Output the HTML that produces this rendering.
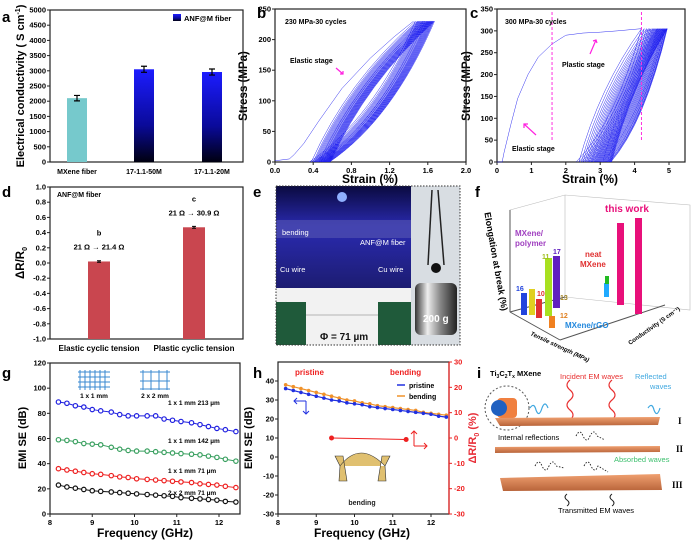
<!DOCTYPE html>
<html><head><meta charset="utf-8"><style>
html,body{margin:0;padding:0;background:#fff;}
svg{display:block;font-family:"Liberation Sans",Arial,sans-serif;font-weight:bold;}
</style></head><body>
<svg id="fig" width="693" height="542" viewBox="0 0 693 542" xmlns="http://www.w3.org/2000/svg">
<defs>
<linearGradient id="gblue" x1="0" y1="0" x2="0" y2="1"><stop offset="0" stop-color="#1c1cff"/><stop offset="0.6" stop-color="#0a0a9a"/><stop offset="1" stop-color="#000010"/></linearGradient>
<linearGradient id="gphoto" x1="0" y1="0" x2="0" y2="1"><stop offset="0" stop-color="#0a0a40"/><stop offset="0.4" stop-color="#2a2ab0"/><stop offset="1" stop-color="#1c1c70"/></linearGradient>
<linearGradient id="gweight" x1="0" y1="0" x2="1" y2="0"><stop offset="0" stop-color="#333"/><stop offset="0.3" stop-color="#eee"/><stop offset="0.6" stop-color="#888"/><stop offset="1" stop-color="#222"/></linearGradient>
<linearGradient id="glayer" x1="0" y1="0" x2="0" y2="1"><stop offset="0" stop-color="#f0a070"/><stop offset="1" stop-color="#b8643a"/></linearGradient>
</defs>

<text x="2" y="22" font-size="15">a</text>
<text x="257" y="18" font-size="15">b</text>
<text x="470" y="18" font-size="15">c</text>
<text x="2" y="197" font-size="15">d</text>
<text x="253" y="197" font-size="15">e</text>
<text x="475" y="197" font-size="15">f</text>
<text x="2" y="378" font-size="15">g</text>
<text x="253" y="378" font-size="15">h</text>
<text x="477" y="378" font-size="15">i</text>

<text transform="translate(24,86) rotate(-90)" text-anchor="middle" font-size="11">Electrical conductivity ( S cm<tspan font-size="7" dy="-4">-1</tspan><tspan dy="4">)</tspan></text>
<text transform="translate(247,86) rotate(-90)" text-anchor="middle" font-size="11.5">Stress (MPa)</text>
<text x="370" y="183" text-anchor="middle" font-size="12">Strain (%)</text>
<text transform="translate(470,86) rotate(-90)" text-anchor="middle" font-size="11.5">Stress (MPa)</text>
<text x="590" y="183" text-anchor="middle" font-size="12">Strain (%)</text>
<text transform="translate(24,263) rotate(-90)" text-anchor="middle" font-size="11.5">ΔR/R<tspan font-size="7" dy="3">0</tspan></text>
<text transform="translate(26,438) rotate(-90)" text-anchor="middle" font-size="11">EMI SE (dB)</text>
<text x="145" y="537" text-anchor="middle" font-size="12">Frequency (GHz)</text>
<text transform="translate(252,438) rotate(-90)" text-anchor="middle" font-size="11">EMI SE (dB)</text>
<text x="362" y="537" text-anchor="middle" font-size="12">Frequency (GHz)</text>
<text transform="translate(476,438) rotate(-90)" text-anchor="middle" font-size="11" fill="#e8303a">ΔR/R<tspan font-size="7" dy="3">0</tspan><tspan dy="-3"> (%)</tspan></text>

<g>
<rect x="276" y="186" width="135" height="103" fill="url(#gphoto)"/>
<rect x="276" y="220" width="135" height="18" fill="#5050b0" opacity="0.7"/>
<circle cx="342" cy="197" r="5" fill="#8fb0ff"/>
<rect x="276" y="288" width="135" height="57" fill="#f2f2f2"/>
<rect x="276" y="302" width="30" height="43" fill="#1f5a3a"/>
<rect x="378" y="302" width="33" height="43" fill="#1f5a3a"/>
<line x1="306" y1="315" x2="378" y2="315" stroke="#777" stroke-width="0.6"/>
<rect x="411" y="186" width="49" height="159" fill="#d8dde2"/>
<line x1="432" y1="190" x2="428" y2="265" stroke="#222" stroke-width="1.5"/>
<line x1="438" y1="190" x2="444" y2="265" stroke="#222" stroke-width="1.5"/>
<circle cx="436" cy="268" r="5" fill="#111"/>
<rect x="415" y="283" width="42" height="52" rx="6" fill="url(#gweight)"/>
<rect x="276" y="186" width="184" height="159" fill="none" stroke="#333" stroke-dasharray="1.5,1.5"/>
<text x="282" y="235" font-size="7.5" fill="#fff" font-weight="normal">bending</text>
<text x="360" y="245" font-size="7.5" fill="#fff" font-weight="normal">ANF@M fiber</text>
<text x="280" y="272" font-size="7.5" fill="#fff" font-weight="normal">Cu wire</text>
<text x="378" y="272" font-size="7.5" fill="#fff" font-weight="normal">Cu wire</text>
<text x="320" y="340" font-size="10" fill="#111">Φ = 71 µm</text>
<text x="423" y="322" font-size="10" fill="#fff">200 g</text>
</g>

<g font-size="8">
<polygon points="510,210 565,195 690,205 690,310 565,297 510,312" fill="none" stroke="#bbb" stroke-width="0.6"/>
<line x1="565" y1="195" x2="565" y2="297" stroke="#bbb" stroke-width="0.6"/>
<line x1="510" y1="312" x2="565" y2="297" stroke="#555"/>
<line x1="510" y1="312" x2="560" y2="340" stroke="#555"/>
<line x1="560" y1="340" x2="665" y2="305" stroke="#555"/>
<line x1="510" y1="210" x2="510" y2="312" stroke="#555"/>
<text transform="translate(493,262) rotate(80)" text-anchor="middle" font-size="9">Elongation at break (%)</text>
<text transform="translate(530,335) rotate(25)" font-size="6" font-style="italic">Tensile strength (MPa)</text>
<text transform="translate(630,345) rotate(-35)" font-size="6">Conductivity (S cm⁻¹)</text>
<rect x="521" y="293" width="6" height="22" fill="#2244dd"/>
<rect x="529" y="289" width="6" height="26" fill="#e0d020"/>
<rect x="536" y="299" width="6" height="19" fill="#e03030"/>
<rect x="545" y="258" width="7" height="58" fill="#a8e020"/>
<rect x="553" y="256" width="7" height="52" fill="#6020c0"/>
<rect x="549" y="316" width="6" height="12" fill="#f08020"/>
<rect x="604" y="283" width="5" height="14" fill="#20aaff"/>
<rect x="605" y="276" width="4" height="8" fill="#22bb22"/>
<rect x="617" y="223" width="7" height="82" fill="#e8107a"/>
<rect x="635" y="218" width="7" height="96" fill="#e8107a"/>
<text x="605" y="212" font-size="10" fill="#e8107a">this work</text>
<text x="515" y="236" font-size="8" fill="#a040c0">MXene/</text>
<text x="515" y="246" font-size="8" fill="#a040c0">polymer</text>
<text x="585" y="257" font-size="8" fill="#e03030">neat</text>
<text x="580" y="267" font-size="8" fill="#e03030">MXene</text>
<text x="565" y="328" font-size="8" fill="#2288dd">MXene/rGO</text>
<text x="553" y="254" font-size="7" fill="#6020c0">17</text>
<text x="542" y="259" font-size="7" fill="#a0c020">11</text>
<text x="516" y="291" font-size="7" fill="#2244dd">16</text>
<text x="537" y="296" font-size="7" fill="#e03030">10</text>
<text x="560" y="300" font-size="7" fill="#a08020">13</text>
<text x="560" y="318" font-size="7" fill="#e08020">12</text>
</g>

<g>
<circle cx="507" cy="408" r="22" fill="none" stroke="#555" stroke-dasharray="2,2"/>
<rect x="497" y="398" width="20" height="20" rx="4" fill="#f08040"/>
<circle cx="499" cy="408" r="8" fill="#2060c0"/>
<text x="490" y="376" font-size="7.5">Ti<tspan font-size="5" dy="2">3</tspan><tspan dy="-2">C</tspan><tspan font-size="5" dy="2">2</tspan><tspan dy="-2">T</tspan><tspan font-size="5" dy="2">x</tspan><tspan dy="-2"> MXene</tspan></text>
<text x="560" y="379" font-size="7.5" fill="#e83030" font-weight="normal">Incident EM waves</text>
<text x="635" y="379" font-size="7.5" fill="#40a8e0" font-weight="normal">Reflected</text>
<text x="650" y="389" font-size="7.5" fill="#40a8e0" font-weight="normal">waves</text>
<path d="M570 380 q-6 5 0 10 q6 5 0 10 q-6 5 0 10 q6 5 0 10 M612 380 q-6 5 0 10 q6 5 0 10 q-6 5 0 10 q6 5 0 10" fill="none" stroke="#e83030" stroke-width="1.2"/>
<path d="M530 408 q4 -6 6 2 q3 8 6 -2 q3 -8 6 0 M648 408 q4 -6 6 2 q3 8 6 -2" fill="none" stroke="#40a8e0" stroke-width="1.2"/>
<polygon points="495,418 660,417 658,425 500,426" fill="url(#glayer)"/>
<polygon points="495,447 660,446 660,452 495,453" fill="url(#glayer)"/>
<polygon points="500,478 660,474 662,490 503,491" fill="url(#glayer)"/>
<text x="678" y="424" font-size="9" font-family="Liberation Serif">I</text>
<text x="676" y="452" font-size="9" font-family="Liberation Serif">II</text>
<text x="672" y="488" font-size="9" font-family="Liberation Serif">III</text>
<text x="498" y="440" font-size="7.5" font-weight="normal">Internal reflections</text>
<text x="614" y="462" font-size="7.5" fill="#40c070" font-weight="normal">Absorbed waves</text>
<text x="558" y="513" font-size="7.5" font-weight="normal">Transmitted EM waves</text>
<path d="M576 436 q4 -8 7 0 q4 8 7 0 q4 -8 7 0 l8 4 M535 466 q4 -8 7 0 q4 8 7 0 q4 -8 7 0 l8 2 M584 466 q4 -8 7 0 q4 8 7 0 l10 6" fill="none" stroke="#222" stroke-width="0.9" stroke-dasharray="1.5,1.5"/>
<path d="M567 494 q-4 3 0 6 q4 3 0 6 M612 494 q-4 3 0 6 q4 3 0 6" fill="none" stroke="#222" stroke-width="1"/>
</g>

<g id="charts"></g>
</svg>

<script>
const aCategories = ["MXene fiber","17-1.1-50M","17-1.1-20M"];
const aValues = [2100, 3050, 2960];
const aErrors = [90, 100, 100];
const aTicks = [0,500,1000,1500,2000,2500,3000,3500,4000,4500,5000];

const dCategories = ["Elastic cyclic tension","Plastic cyclic tension"];
const dValues = [0.02, 0.47];
const dErrors = [0.01, 0.012];
const dTop = ["b","c"];
const dNote = ["21 Ω → 21.4 Ω","21 Ω → 30.9 Ω"];
const dTicks = [-1.0,-0.8,-0.6,-0.4,-0.2,0.0,0.2,0.4,0.6,0.8,1.0];

const bTicksX = [0.0,0.4,0.8,1.2,1.6,2.0];
const bTicksY = [0,50,100,150,200,250];
const bInitX = [0,0.15,0.2,0.3,0.45,0.7,1.0,1.25,1.45];
const bInitY = [2,5,12,30,65,120,170,205,230];
const bStart = [0.36,0.38,0.40,0.41,0.42,0.43,0.44,0.45,0.46,0.46,0.47,0.48,0.48,0.49,0.50,0.50,0.51,0.51,0.52,0.52,0.53,0.53,0.54,0.54,0.55,0.55,0.56,0.56,0.57,0.57];
const bEnd = [1.47,1.49,1.50,1.51,1.52,1.53,1.54,1.55,1.55,1.56,1.57,1.57,1.58,1.59,1.59,1.60,1.60,1.61,1.61,1.62,1.62,1.63,1.63,1.64,1.64,1.65,1.65,1.66,1.66,1.67];

const cTicksX = [0,1,2,3,4,5];
const cTicksY = [0,50,100,150,200,250,300,350];
const cInitX = [0,0.15,0.2,0.4,0.6,0.9,1.2,1.6,2.0,2.5,3.0,3.5,4.2];
const cInitY = [0,0,20,85,145,200,240,270,290,295,297,300,305];
const cStart = [2.30,2.38,2.45,2.50,2.55,2.60,2.64,2.68,2.72,2.75,2.78,2.82,2.85,2.88,2.91,2.94,2.97,3.00,3.03,3.06,3.08,3.11,3.14,3.17,3.20,3.22,3.25,3.27,3.29,3.31];
const cEnd = [4.20,4.28,4.35,4.40,4.44,4.48,4.52,4.55,4.58,4.61,4.64,4.66,4.68,4.70,4.72,4.74,4.76,4.78,4.80,4.82,4.83,4.85,4.86,4.88,4.89,4.90,4.92,4.93,4.94,4.95];

const gFreqs = [8.2,8.4,8.6,8.8,9.0,9.2,9.45,9.65,9.85,10.05,10.3,10.5,10.7,10.9,11.1,11.35,11.55,11.75,11.95,12.15,12.4];
const g213 = [89,88,86,85,83,82,81,79,78,78,78,78,75.5,74.5,73.5,72.5,71,69.5,68,67,65.5];
const g142 = [59,58.5,57.5,56,55.5,55,53,51.5,50.5,50,50,49.5,49,48.5,48,47.5,47,46,45,43.5,42];
const g71 = [36,35,34,33,32,31.5,30.5,29.5,29,28,27.5,27,26.5,26,25.5,25,24,23.5,23,22,21];
const g2x2 = [23,21.5,20.5,19.5,18.5,18,17.5,17,16.5,16,15.5,15,14.5,14,13,12.5,12,11.5,11,10,9.5];
const gTicksX = [8,9,10,11,12];
const gTicksY = [0,20,40,60,80,100,120];
const gLabels = ["1 x 1 mm  213 µm","1 x 1 mm 142 µm","1 x 1 mm 71 µm","2 x 2 mm 71 µm"];

const hFreqs = [8.2,8.4,8.6,8.8,9.0,9.2,9.4,9.6,9.8,10.0,10.2,10.4,10.6,10.8,11.0,11.2,11.4,11.6,11.8,12.0,12.2,12.4];
const hPristine = [36,35,34,33,32,31,30,29.5,28.5,28,27.5,26.5,26,25.5,25,24.5,24,23.5,23,22.5,21.5,21];
const hBending = [38,37,36,35,34,33,32,31,30,29.5,28.5,28,27,26.5,26,25.5,25,24.5,23.5,23,22.5,22];
const hResX = [9.4,11.35];
const hResY = [0,-0.6];
const hTicksX = [8,9,10,11,12];
const hTicksYL = [-30,-20,-10,0,10,20,30,40];
const hTicksYR = [-30,-20,-10,0,10,20,30];

const NS = "http://www.w3.org/2000/svg";
const root = document.getElementById("charts");
function mk(tag, attrs, parent) {
  const el = document.createElementNS(NS, tag);
  for (const k in attrs) el.setAttribute(k, attrs[k]);
  (parent || root).appendChild(el);
  return el;
}
function txt(x, y, s, size, anchor, fill, parent) {
  const t = mk("text", {x: x, y: y, "font-size": size, "text-anchor": anchor || "start", fill: fill || "#000"}, parent);
  t.textContent = s;
  return t;
}
function scale(d0, d1, r0, r1) { return v => r0 + (v - d0) / (d1 - d0) * (r1 - r0); }
function frame(x0, y0, x1, y1, name) {
  const r = mk("rect", {x: x0, y: y0, width: x1 - x0, height: y1 - y0, fill: "none", stroke: "#222", "stroke-width": 1.2});
  
  
}
function yTicks(ticks, sy, x, fmt, name, color, right) {
  ticks.forEach(v => {
    const y = sy(v);
    const tl = mk("line", {x1: x, y1: y, x2: right ? x + 3 : x - 3, y2: y, stroke: color || "#222"});
    
    
    const t = txt(right ? x + 5 : x - 4, y + 2.5, fmt(v), 7.5, right ? "start" : "end", color);
    
    
  });
}
function xTicks(ticks, sx, y, fmt, name) {
  ticks.forEach(v => {
    const x = sx(v);
    const tl = mk("line", {x1: x, y1: y, x2: x, y2: y + 3, stroke: "#222"});
    
    
    const t = txt(x, y + 11, fmt(v), 7.5, "middle");
    
    
  });
}

(function(){
  const sy = scale(0, 5000, 162, 10);
  const xs = [77, 144, 212];
  frame(50, 10, 243, 162, "a-plot-frame");
  yTicks(aTicks, sy, 50, v => String(v), "a-y");
  aValues.forEach((v, i) => {
    const b = mk("rect", {x: xs[i] - 10, y: sy(v), width: 20, height: 162 - sy(v), fill: i === 0 ? "#76c9cc" : "url(#gblue)"});
    
    
    const e = mk("path", {d: `M${xs[i]-3} ${sy(v+aErrors[i])} h6 M${xs[i]} ${sy(v+aErrors[i])} V${sy(v-aErrors[i])} M${xs[i]-3} ${sy(v-aErrors[i])} h6`, stroke: "#000", "stroke-width": 1.2, fill: "none"});
    
    
    const t = txt(xs[i], 174, aCategories[i], 7, "middle");
    
    
  });
  const lg = mk("rect", {x: 173, y: 14, width: 8, height: 7, fill: "url(#gblue)"});
  
  
  const lt = txt(184, 21, "ANF@M fiber", 7.5);
  
  
})();

(function(){
  const sy = scale(-1, 1, 339, 187);
  const xs = [99, 194];
  frame(50, 187, 243, 339, "d-plot-frame");
  yTicks(dTicks, sy, 50, v => v.toFixed(1), "d-y");
  const t0 = txt(57, 197, "ANF@M fiber", 7);
  
  
  dValues.forEach((v, i) => {
    const b = mk("rect", {x: xs[i] - 11, y: sy(v), width: 22, height: sy(-1) - sy(v), fill: "#c9464f"});
    
    
    const e = mk("path", {d: `M${xs[i]-2} ${sy(v+dErrors[i])} h4 M${xs[i]} ${sy(v+dErrors[i])} V${sy(v-dErrors[i])} M${xs[i]-2} ${sy(v-dErrors[i])} h4`, stroke: "#000", fill: "none"});
    
    
    const a = txt(xs[i], sy(v) - 26, dTop[i], 7.5, "middle");
    
    
    const n = txt(xs[i], sy(v) - 12, dNote[i], 7.5, "middle");
    
    
    const c = txt(xs[i], 351, dCategories[i], 8, "middle");
    
    
  });
})();

(function(){
  const sx = scale(0, 2, 275, 466), sy = scale(0, 250, 162, 9);
  frame(275, 9, 466, 162, "b-plot-frame");
  yTicks(bTicksY, sy, 275, v => String(v), "b-y");
  xTicks(bTicksX, sx, 162, v => v.toFixed(1), "b-x");
  const g = mk("g", {fill: "none", stroke: "#1a1aee", "stroke-width": 0.45});
  
  
  const init = mk("path", {d: "M" + bInitX.map((x, i) => sx(x) + " " + sy(bInitY[i])).join(" L")}, g);
  
  
  bStart.forEach((s, i) => {
    const e = bEnd[i], n = i + 1 < bStart.length ? bStart[i + 1] : s + 0.01;
    const p = mk("path", {d: `M${sx(s)} ${sy(0)} Q${sx(s + 0.6 * (e - s))} ${sy(70)} ${sx(e)} ${sy(230)} Q${sx(s + 0.35 * (e - s))} ${sy(130)} ${sx(n)} ${sy(0)}`}, g);
    
    
  });
  const t = txt(285, 24, "230 MPa-30 cycles", 7);
  
  
  const t2 = txt(290, 63, "Elastic stage", 7);
  
  
  const ar = mk("path", {d: "M336 68 L343 74 M340 74 h3 v-3", stroke: "#ff20e0", fill: "none", "stroke-width": 1.2});
  
  
})();

(function(){
  const sx = scale(0, 5, 497, 669), sy = scale(0, 350, 162, 9);
  frame(497, 9, 685, 162, "c-plot-frame");
  yTicks(cTicksY, sy, 497, v => String(v), "c-y");
  xTicks(cTicksX, sx, 162, v => String(v), "c-x");
  const g = mk("g", {fill: "none", stroke: "#1a1aee", "stroke-width": 0.45});
  
  
  const init = mk("path", {d: "M" + cInitX.map((x, i) => sx(x) + " " + sy(cInitY[i])).join(" L")}, g);
  
  
  cStart.forEach((s, i) => {
    const e = cEnd[i], n = i + 1 < cStart.length ? cStart[i + 1] : s + 0.02;
    const p = mk("path", {d: `M${sx(s)} ${sy(0)} Q${sx(s + 0.6 * (e - s))} ${sy(90)} ${sx(e)} ${sy(305)} Q${sx(s + 0.35 * (e - s))} ${sy(170)} ${sx(n)} ${sy(0)}`}, g);
    
    
  });
  [1.6, 4.2].forEach(v => {
    const l = mk("line", {x1: sx(v), y1: 12, x2: sx(v), y2: 140, stroke: "#ff30e0", "stroke-dasharray": "3,2"});
    
    
  });
  const t = txt(505, 24, "300 MPa-30 cycles", 7);
  
  
  const t2 = txt(562, 67, "Plastic stage", 7);
  
  
  const t3 = txt(512, 151, "Elastic stage", 7);
  
  
  const ar = mk("path", {d: "M590 54 L596 40 M593 41 l3 -1 l1 3 M536 135 L524 124 M524 128 v-4 h4", stroke: "#ff20e0", fill: "none", "stroke-width": 1.2});
  
  
})();

(function(){
  const sx = scale(8, 12, 50, 219), sy = scale(0, 120, 514, 363);
  frame(50, 363, 240, 514, "g-plot-frame");
  yTicks(gTicksY, sy, 50, v => String(v), "g-y");
  xTicks(gTicksX, sx, 514, v => String(v), "g-x");
  const series = [g213, g142, g71, g2x2];
  const colors = ["#2020e0", "#3aa060", "#ee2020", "#111"];
  const lblY = [405, 443, 473, 495];
  series.forEach((vals, si) => {
    const p = mk("path", {d: "M" + gFreqs.map((f, i) => sx(f) + " " + sy(vals[i])).join(" L"), stroke: colors[si], fill: "none", "stroke-width": 1});
    
    
    vals.forEach((v, i) => {
      const c = mk("circle", {cx: sx(gFreqs[i]), cy: sy(v), r: 2.2, fill: "#fff", stroke: colors[si], "stroke-width": 1.2});
      
      
    });
    const t = txt(168, lblY[si], gLabels[si], 6.5);
    
    
  });
  const mesh = mk("path", {d: "M78 372 h32 M78 377 h32 M78 382 h32 M78 387 h32 M80 370 v20 M85 370 v20 M90 370 v20 M95 370 v20 M100 370 v20 M105 370 v20 M140 372 h30 M140 381 h30 M140 389 h30 M143 370 v20 M151 370 v20 M159 370 v20 M167 370 v20", stroke: "#3a88d0", "stroke-width": 1});
  
  
  const m1 = txt(94, 398, "1 x 1 mm", 6.5, "middle");
  
  
  const m2 = txt(155, 398, "2 x 2 mm", 6.5, "middle");
  
  
})();

(function(){
  const sx = scale(8, 12, 278, 431), sy = scale(-30, 50, 514, 362), syR = scale(-30, 30, 514, 362);
  frame(278, 362, 449, 514, "h-plot-frame");
  const ra = mk("line", {x1: 449, y1: 362, x2: 449, y2: 514, stroke: "#ee2020", "stroke-width": 1.2});
  
  
  yTicks(hTicksYL, sy, 278, v => String(v), "h-y-left");
  yTicks(hTicksYR, syR, 449, v => String(v), "h-y-right", "#ee2020", true);
  xTicks(hTicksX, sx, 514, v => String(v), "h-x");
  [[hBending, "#f0922a", 'h-bending'], [hPristine, "#2030e0", 'h-pristine']].forEach(([vals, col, nm]) => {
    const p = mk("path", {d: "M" + hFreqs.map((f, i) => sx(f) + " " + sy(vals[i])).join(" L"), stroke: col, fill: "none", "stroke-width": 1.2});
    
    
    vals.forEach((v, i) => {
      const c = mk("circle", {cx: sx(hFreqs[i]), cy: sy(v), r: 1.8, fill: col});
      
      
    });
  });
  const rl = mk("line", {x1: sx(hResX[0]), y1: syR(hResY[0]), x2: sx(hResX[1]), y2: syR(hResY[1]), stroke: "#ee2020", "stroke-width": 1});
  
  
  hResX.forEach((x, i) => {
    const c = mk("circle", {cx: sx(x), cy: syR(hResY[i]), r: 2.5, fill: "#ee2020"});
    
    
  });
  const l1 = mk("line", {x1: 397, y1: 385, x2: 405, y2: 385, stroke: "#2030e0", "stroke-width": 1.5});
  
  
  const l2 = mk("line", {x1: 397, y1: 396, x2: 405, y2: 396, stroke: "#f0922a", "stroke-width": 1.5});
  
  
  const t1 = txt(409, 388, "pristine", 7, "start", "#000");
  
  
  const t2 = txt(409, 399, "bending", 7, "start", "#000");
  
  
  const p1 = txt(295, 375, "pristine", 8, "start", "#ee2020");
  
  
  const p2 = txt(390, 375, "bending", 8, "start", "#ee2020");
  
  
  const arr = mk("path", {d: "M306 401 h-12 M297 398 l-3 3 l3 3 M306 401 v13 M303 411 l3 3 l3 -3", stroke: "#2030e0", fill: "none", "stroke-width": 1});
  
  
  const arr2 = mk("path", {d: "M414 446 v-15 M411 434 l3 -3 l3 3 M414 446 h13 M424 443 l3 3 l-3 3", stroke: "#ee2020", fill: "none", "stroke-width": 1});
  
  
  const ins = mk("path", {d: "M340 466 Q360 440 385 466 M340 466 l-5 -10 h8 l4 25 h-8 z M385 466 l5 -10 h-8 l-4 25 h8 z", fill: "#e0c070", stroke: "#333", "stroke-width": 0.6});
  
  
  const bt = txt(362, 505, "bending", 7, "middle", "#222");
  
  
})();
</script>
</body></html>
